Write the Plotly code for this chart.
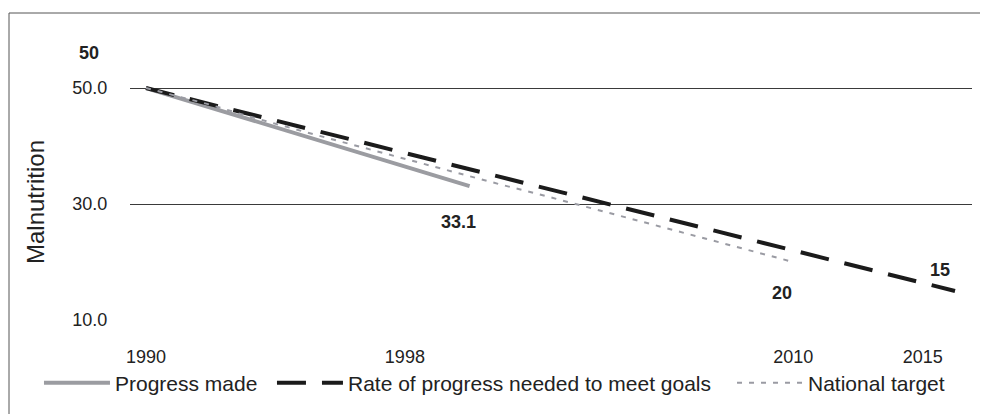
import plotly.graph_objects as go

# ---- data ----
progress_years = [1990, 1991, 1992, 1993, 1994, 1995, 1996, 1997, 1998, 1999, 2000]
progress_vals = [50.0, 48.3, 46.6, 44.9, 43.2, 41.5, 39.8, 38.2, 36.5, 34.8, 33.1]

rate_years = list(range(1990, 2016))
rate_vals = [50.0, 48.6, 47.2, 45.8, 44.4, 43.0, 41.6, 40.2, 38.8, 37.4, 36.0, 34.6, 33.2,
             31.8, 30.4, 29.0, 27.6, 26.2, 24.8, 23.4, 22.0, 20.6, 19.2, 17.8, 16.4, 15.0]

target_years = list(range(1990, 2011))
target_vals = [50.0, 48.6, 47.1, 45.4, 43.8, 42.3, 40.8, 39.3, 37.8, 36.2, 34.7, 33.3, 31.9,
               30.4, 28.9, 27.4, 25.9, 24.5, 23.0, 21.5, 20.0]

series_names = ["Progress made", "Rate of progress needed to meet goals", "National target"]
x_tick_labels = ["1990", "1998", "2010", "2015"]
x_tick_pos = [1990, 1998, 2010, 2014]
y_tick_vals = [10, 30, 50]

FONT = "Liberation Sans, Arial, sans-serif"
TXT = "#222222"

fig = go.Figure()
fig.add_trace(go.Scatter(x=progress_years, y=progress_vals, mode="lines", name=series_names[0],
                         legend="legend",
                         line=dict(color="#9b9ca1", width=4)))
fig.add_trace(go.Scatter(x=rate_years, y=rate_vals, mode="lines", name=series_names[1],
                         legend="legend2",
                         line=dict(color="#1b1b1b", width=4, dash="29px,16px")))
fig.add_trace(go.Scatter(x=target_years, y=target_vals, mode="lines", name=series_names[2],
                         legend="legend3",
                         line=dict(color="#9a9ba3", width=2, dash="5px,7px")))

# data labels
labels = [
    (rate_years[0], rate_vals[0], -57, 35),
    (progress_years[-1], progress_vals[-1], -11, -36),
    (target_years[-1], target_vals[-1], -11, -31),
    (rate_years[-1], rate_vals[-1], -15, 21),
]
for x, y, dx, dy in labels:
    fig.add_annotation(x=x, y=y, text=f"{y:g}", showarrow=False, xshift=dx, yshift=dy,
                       font=dict(family=FONT, size=18, color=TXT, weight="bold"))

# outer frame
fig.add_shape(type="rect", xref="paper", yref="paper", x0=-0.1437, x1=1.05, y0=-0.45, y1=1.3008,
              line=dict(color="#555555", width=1), fillcolor="rgba(0,0,0,0)", layer="below")

leg_common = dict(orientation="h", xanchor="left", y=-0.267, yanchor="middle",
                  font=dict(family=FONT, size=21, color=TXT), itemwidth=66,
                  bgcolor="rgba(0,0,0,0)")

fig.update_layout(
    width=980, height=406,
    margin=dict(l=122, r=16, t=76, b=94, autoexpand=False),
    paper_bgcolor="white", plot_bgcolor="white",
    font=dict(family=FONT, color=TXT),
    showlegend=True,
    legend=dict(x=-0.1081, **leg_common),
    legend2=dict(x=0.1686, **leg_common),
    legend3=dict(x=0.7150, **leg_common),
    xaxis=dict(range=[1989.506, 2015.525], tickvals=x_tick_pos, ticktext=x_tick_labels,
               showgrid=False, zeroline=False, showline=False, ticks="outside", ticklen=20,
               tickcolor="rgba(0,0,0,0)", tickfont=dict(family=FONT, size=18, color=TXT)),
    yaxis=dict(range=[10, 50.7], tickvals=y_tick_vals, tickformat=".1f",
               showgrid=True, gridcolor="#3a3a3a", gridwidth=1, zeroline=False, showline=False,
               ticks="outside", ticklen=18, tickcolor="rgba(0,0,0,0)",
               tickfont=dict(family=FONT, size=18, color=TXT),
               title=dict(text="Malnutrition", standoff=20,
                          font=dict(family=FONT, size=24, color=TXT))),
)

fig.write_html("out.html")
